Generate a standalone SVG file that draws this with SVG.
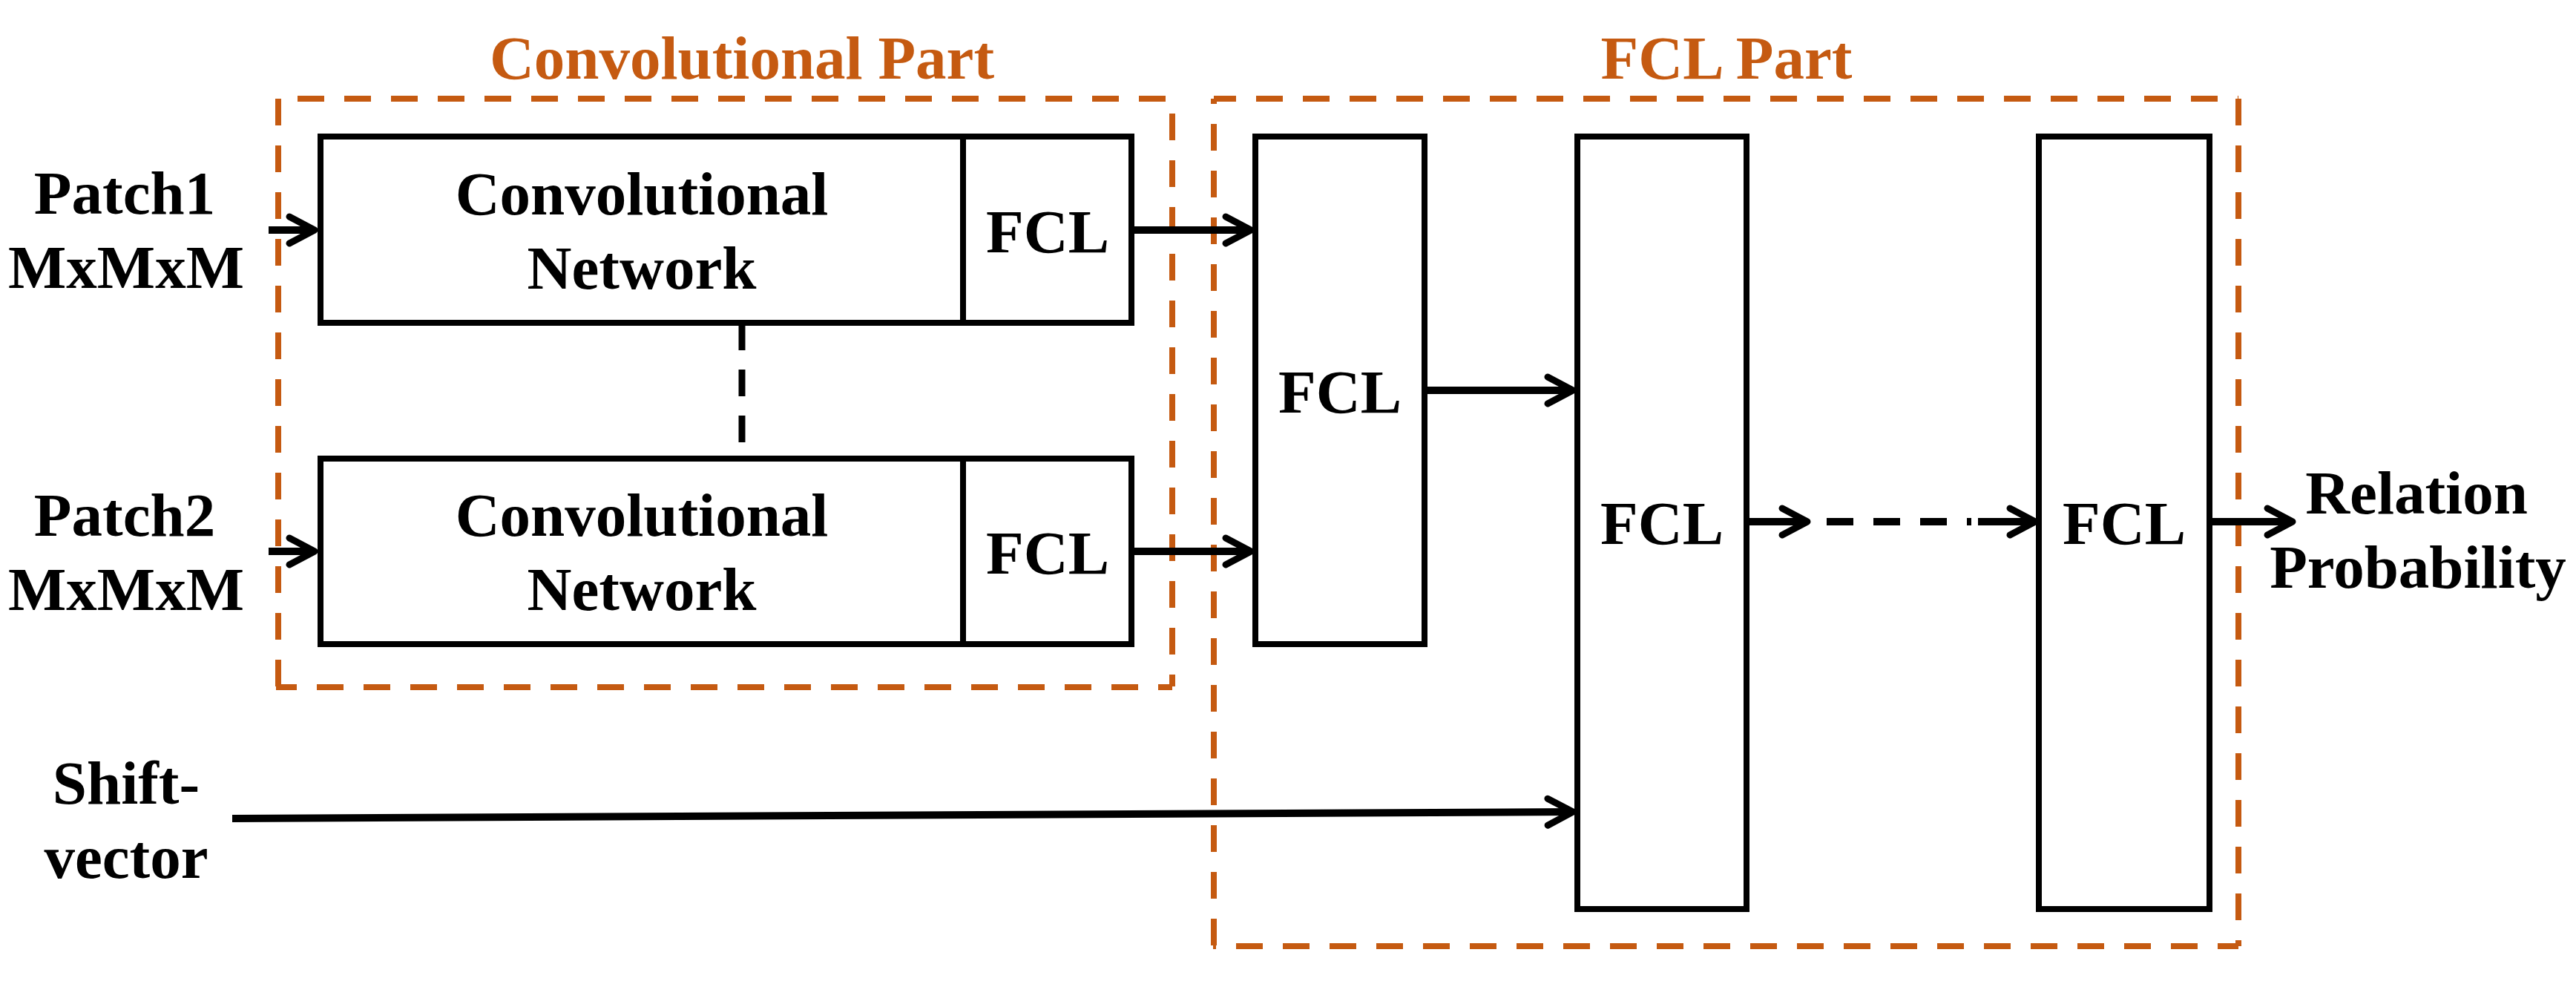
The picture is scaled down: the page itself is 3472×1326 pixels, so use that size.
<svg xmlns="http://www.w3.org/2000/svg" width="3472" height="1326" viewBox="0 0 3472 1326">
<defs>
<style>
.box{fill:#fff;stroke:#000;stroke-width:8}
.grp{fill:none;stroke:#C55A11;stroke-width:8;stroke-dasharray:36 27}
.t{font-family:"Liberation Serif","Times New Roman",serif;font-weight:bold;font-size:83px;fill:#000;text-anchor:middle}
.title{fill:#C55A11}
.ln{fill:none;stroke:#000;stroke-width:10}
.dl{fill:none;stroke:#000;stroke-width:9;stroke-dasharray:36 26}
</style>
<marker id="arr" markerUnits="userSpaceOnUse" viewBox="-45 -30 55 60" refX="0" refY="0" markerWidth="55" markerHeight="60" orient="auto" overflow="visible">
<path d="M-34,-18 L0,0 L-34,18" fill="none" stroke="#000" stroke-width="9" stroke-linecap="round" stroke-linejoin="round"/>
</marker>
</defs>
<rect width="3472" height="1326" fill="#fff"/>

<g id="conv-part">
<line class="grp" x1="375" y1="133" x2="375" y2="925"/>
<line class="grp" x1="401" y1="133" x2="1580" y2="133"/>
<line class="grp" x1="1580" y1="153" x2="1580" y2="925"/>
<line class="grp" x1="372" y1="926" x2="1580" y2="926" stroke-dashoffset="8"/>
<text class="t title" x="1000" y="106">Convolutional Part</text>
</g>

<g id="fcl-part">
<line class="grp" x1="1636" y1="133" x2="1636" y2="1275" stroke-dashoffset="29"/>
<line class="grp" x1="1636" y1="133" x2="3017" y2="133" stroke-dashoffset="6"/>
<line class="grp" x1="3017" y1="133" x2="3017" y2="1275"/>
<line class="grp" x1="1635" y1="1275" x2="3017" y2="1275" stroke-dashoffset="32"/>
<text class="t title" x="2327" y="106">FCL Part</text>
</g>

<g id="patch1">
<text class="t" x="168" y="288">Patch1</text>
<text class="t" x="170" y="388">MxMxM</text>
</g>
<g id="patch2">
<text class="t" x="168" y="722">Patch2</text>
<text class="t" x="170" y="822">MxMxM</text>
</g>
<g id="shift-vector">
<text class="t" x="170" y="1083">Shift-</text>
<text class="t" x="170" y="1183">vector</text>
</g>

<g id="conv1">
<rect class="box" x="432" y="184" width="866" height="251"/>
<text class="t" x="865" y="289">Convolutional</text>
<text class="t" x="865" y="389">Network</text>
</g>
<g id="fcl1">
<rect class="box" x="1298" y="184" width="227" height="251"/>
<text class="t" x="1412" y="340">FCL</text>
</g>
<g id="conv2">
<rect class="box" x="432" y="618" width="866" height="250"/>
<text class="t" x="865" y="722">Convolutional</text>
<text class="t" x="865" y="822">Network</text>
</g>
<g id="fcl2">
<rect class="box" x="1298" y="618" width="227" height="250"/>
<text class="t" x="1412" y="773">FCL</text>
</g>
<g id="fclA">
<rect class="box" x="1692" y="184" width="228" height="684"/>
<text class="t" x="1806" y="556">FCL</text>
</g>
<g id="fclB">
<rect class="box" x="2126" y="184" width="228" height="1041"/>
<text class="t" x="2240" y="733">FCL</text>
</g>
<g id="fclC">
<rect class="box" x="2748" y="184" width="230" height="1041"/>
<text class="t" x="2863" y="733">FCL</text>
</g>
<g id="output">
<text class="t" x="3257" y="692">Relation</text>
<text class="t" x="3259" y="792">Probability</text>
</g>

<g id="connectors">
<line class="dl" x1="1000" y1="436" x2="1000" y2="614"/>
<line class="ln" x1="362" y1="310" x2="424" y2="310" marker-end="url(#arr)"/>
<line class="ln" x1="1529" y1="310" x2="1686" y2="310" marker-end="url(#arr)"/>
<line class="ln" x1="362" y1="743" x2="424" y2="743" marker-end="url(#arr)"/>
<line class="ln" x1="1529" y1="743" x2="1686" y2="743" marker-end="url(#arr)"/>
<line class="ln" x1="1924" y1="526" x2="2120" y2="526" marker-end="url(#arr)"/>
<line class="ln" x1="313" y1="1103" x2="2120" y2="1094" marker-end="url(#arr)"/>
<line class="ln" x1="2354" y1="703" x2="2436" y2="703" marker-end="url(#arr)"/>
<line class="ln" x1="2462" y1="703" x2="2657" y2="703" stroke-dasharray="36 27"/>
<line class="ln" x1="2666" y1="703" x2="2743" y2="703" marker-end="url(#arr)"/>
<line class="ln" x1="2982" y1="703" x2="3090" y2="703" marker-end="url(#arr)"/>
</g>
</svg>
